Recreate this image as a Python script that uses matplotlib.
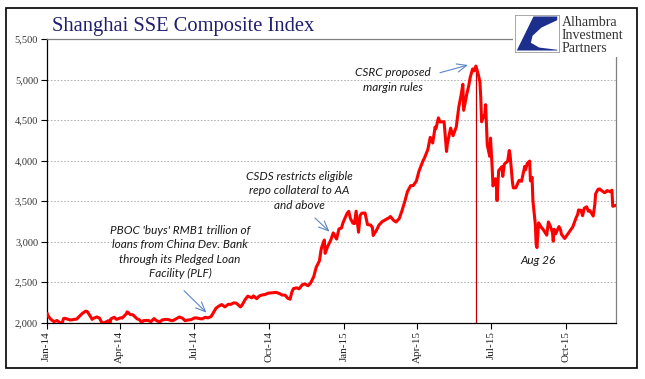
import matplotlib
matplotlib.use("Agg")
import matplotlib.pyplot as plt
import matplotlib.dates as mdates
from matplotlib.patches import Rectangle, Polygon, FancyArrowPatch
import pandas as pd

# Shanghai SSE Composite closes
dates_2014 = [
    "2014-01-02", "2014-01-03", "2014-01-06", "2014-01-10", "2014-01-14", "2014-01-17",
    "2014-01-20", "2014-01-22", "2014-01-24", "2014-01-30", "2014-02-07", "2014-02-11",
    "2014-02-14", "2014-02-18", "2014-02-20", "2014-02-24", "2014-02-26", "2014-02-28",
    "2014-03-04", "2014-03-07", "2014-03-10", "2014-03-12", "2014-03-14", "2014-03-18",
    "2014-03-20", "2014-03-21", "2014-03-25", "2014-03-28", "2014-04-02", "2014-04-04",
    "2014-04-09", "2014-04-10", "2014-04-14", "2014-04-17", "2014-04-22", "2014-04-25",
    "2014-04-28", "2014-04-30", "2014-05-06", "2014-05-09", "2014-05-13", "2014-05-16",
    "2014-05-20", "2014-05-23", "2014-05-27", "2014-05-30", "2014-06-04", "2014-06-06",
    "2014-06-10", "2014-06-13", "2014-06-17", "2014-06-20", "2014-06-24", "2014-06-27",
    "2014-07-02", "2014-07-04", "2014-07-08", "2014-07-11", "2014-07-15", "2014-07-18",
    "2014-07-22", "2014-07-24", "2014-07-25", "2014-07-28", "2014-07-31", "2014-08-04",
    "2014-08-08", "2014-08-12", "2014-08-15", "2014-08-19", "2014-08-22", "2014-08-27",
    "2014-08-29", "2014-09-02", "2014-09-05", "2014-09-10", "2014-09-12", "2014-09-16",
    "2014-09-19", "2014-09-23", "2014-09-26", "2014-09-30", "2014-10-10", "2014-10-14",
    "2014-10-17", "2014-10-21", "2014-10-24", "2014-10-27", "2014-10-29", "2014-10-31",
    "2014-11-04", "2014-11-07", "2014-11-11", "2014-11-14", "2014-11-18", "2014-11-21",
    "2014-11-25", "2014-11-28", "2014-12-02", "2014-12-04", "2014-12-05", "2014-12-08",
    "2014-12-09", "2014-12-12", "2014-12-16", "2014-12-19", "2014-12-23", "2014-12-26",
    "2014-12-29", "2014-12-31",
]
values_2014 = [
    2109, 2083, 2045, 2013, 2027, 2004,
    1991, 2052, 2054, 2033, 2045, 2086,
    2115, 2142, 2138, 2076, 2041, 2056,
    2071, 2057, 1999, 1997, 2004, 2025,
    1994, 2047, 2067, 2041, 2060, 2058,
    2110, 2134, 2100, 2098, 2049, 2036,
    2003, 2026, 2028, 2011, 2051, 2026,
    2008, 2034, 2041, 2039, 2025, 2030,
    2052, 2070, 2055, 2025, 2034, 2036,
    2060, 2059, 2050, 2047, 2067, 2059,
    2076, 2108, 2127, 2178, 2201, 2224,
    2195, 2227, 2226, 2245, 2241, 2195,
    2217, 2288, 2327, 2307, 2331, 2296,
    2329, 2343, 2347, 2364, 2374, 2359,
    2342, 2339, 2302, 2290, 2373, 2420,
    2430, 2418, 2469, 2478, 2456, 2487,
    2568, 2683, 2763, 2899, 2938, 3020,
    2856, 2938, 3022, 3108, 3032, 3157,
    3168, 3235,
]

dates_2015 = [
    "2015-01-05", "2015-01-07", "2015-01-09", "2015-01-12", "2015-01-14", "2015-01-16",
    "2015-01-19", "2015-01-21", "2015-01-23", "2015-01-27", "2015-01-30", "2015-02-03",
    "2015-02-05", "2015-02-06", "2015-02-10", "2015-02-13", "2015-02-17", "2015-02-26",
    "2015-02-27", "2015-03-03", "2015-03-06", "2015-03-10", "2015-03-13", "2015-03-17",
    "2015-03-20", "2015-03-24", "2015-03-27", "2015-03-31", "2015-04-03", "2015-04-08",
    "2015-04-10", "2015-04-14", "2015-04-17", "2015-04-20", "2015-04-23", "2015-04-24",
    "2015-04-27", "2015-04-29", "2015-05-04", "2015-05-06", "2015-05-07", "2015-05-08",
    "2015-05-12", "2015-05-15", "2015-05-19", "2015-05-22", "2015-05-25", "2015-05-27",
    "2015-05-28", "2015-06-01", "2015-06-03", "2015-06-05", "2015-06-08", "2015-06-10",
    "2015-06-12", "2015-06-15", "2015-06-17", "2015-06-18", "2015-06-19", "2015-06-23",
    "2015-06-24", "2015-06-26", "2015-06-29", "2015-06-30", "2015-07-02", "2015-07-03",
    "2015-07-06", "2015-07-07", "2015-07-08", "2015-07-09", "2015-07-10", "2015-07-14",
    "2015-07-15", "2015-07-17", "2015-07-21", "2015-07-23", "2015-07-24", "2015-07-27",
    "2015-07-28", "2015-07-31", "2015-08-04", "2015-08-07", "2015-08-11", "2015-08-12",
    "2015-08-14", "2015-08-17", "2015-08-18", "2015-08-20", "2015-08-21", "2015-08-24",
    "2015-08-25", "2015-08-26", "2015-08-27", "2015-08-28", "2015-09-01", "2015-09-02",
    "2015-09-07", "2015-09-09", "2015-09-11", "2015-09-14", "2015-09-15", "2015-09-16",
    "2015-09-18", "2015-09-22", "2015-09-24", "2015-09-25", "2015-09-29", "2015-09-30",
    "2015-10-09", "2015-10-13", "2015-10-15", "2015-10-16", "2015-10-19", "2015-10-21",
    "2015-10-23", "2015-10-26", "2015-10-28", "2015-10-30", "2015-11-03", "2015-11-05",
    "2015-11-06", "2015-11-09", "2015-11-11", "2015-11-13", "2015-11-17", "2015-11-19",
    "2015-11-20", "2015-11-24", "2015-11-26", "2015-11-27", "2015-11-30",
]
values_2015 = [
    3351, 3374, 3286, 3229, 3223, 3376,
    3116, 3323, 3351, 3353, 3210, 3204,
    3174, 3076, 3141, 3203, 3247, 3298,
    3310, 3263, 3242, 3286, 3372, 3503,
    3617, 3691, 3691, 3748, 3864, 3995,
    4035, 4135, 4287, 4217, 4414, 4394,
    4527, 4476, 4480, 4229, 4112, 4205,
    4401, 4308, 4417, 4658, 4814, 4941,
    4620, 4828, 4910, 5023, 5131, 5106,
    5166, 5062, 4967, 4785, 4478, 4577,
    4690, 4192, 4053, 4277, 3912, 3687,
    3776, 3727, 3507, 3710, 3877, 3925,
    3805, 3958, 3992, 4124, 4070, 3725,
    3663, 3664, 3756, 3744, 3928, 3887,
    3965, 3994, 3749, 3794, 3508, 3210,
    2965, 2927, 3084, 3232, 3166, 3160,
    3080, 3243, 3200, 3114, 3005, 3152,
    3097, 3186, 3143, 3092, 3039, 3053,
    3183, 3293, 3338, 3391, 3386, 3320,
    3412, 3430, 3375, 3383, 3316, 3459,
    3590, 3646, 3650, 3632, 3604, 3617,
    3630, 3616, 3635, 3436, 3445,
]

y_ticks = [2000, 2500, 3000, 3500, 4000, 4500, 5000, 5500]
peak_date = "2015-06-12"
peak_value = 5166

dates = pd.to_datetime(dates_2014 + dates_2015)
values = values_2014 + values_2015

fig = plt.figure(figsize=(6.45, 3.79), dpi=100)
W, H = 645.0, 379.0

def fig_xy(px, py):
    # pixel position (from top-left) -> figure fraction
    return (px / W, 1 - py / H)

# axes placed to match the plot box in pixels
ax = fig.add_axes([46.5 / W, 1 - 322.7 / H, (616 - 46.5) / W, (322.7 - 39) / H])

ax.plot(dates, values, color="#ff0000", lw=2.2, solid_joinstyle="round", zorder=3)
ax.vlines(pd.Timestamp(peak_date), 2000, peak_value, color="#c00000", lw=0.9, zorder=2)

ax.set_ylim(2000, 5500)
ax.set_xlim(pd.Timestamp("2014-01-01"), pd.Timestamp("2015-12-01"))
ax.set_yticks(y_ticks)
ax.set_yticklabels([f"{v:,}" for v in y_ticks])
ax.xaxis.set_major_locator(mdates.MonthLocator(bymonth=[1, 4, 7, 10]))
ax.xaxis.set_major_formatter(mdates.DateFormatter("%b-%y"))

for lab in ax.get_yticklabels():
    lab.set_family("Liberation Serif")
    lab.set_fontsize(7.5)
    lab.set_color("#333333")
for lab in ax.get_xticklabels():
    lab.set_family("Liberation Serif")
    lab.set_fontsize(8)
    lab.set_rotation(90)
    lab.set_color("#222222")

ax.tick_params(axis="both", direction="out", length=4, width=0.8, pad=2)
ax.grid(axis="y", color="#a6a6a6", lw=0.6, ls=(0, (2, 2)))
ax.set_axisbelow(True)
ax.spines["left"].set_color("black")
ax.spines["bottom"].set_color("black")
ax.spines["top"].set_color("#808080")
ax.spines["right"].set_color("#808080")
for s in ax.spines.values():
    s.set_linewidth(0.9)

# annotations
note_kw = dict(family="Lato", style="italic", fontsize=8.5, color="#1a1a1a",
               ha="center", va="center", linespacing=1.35)

fig.text(*fig_xy(393, 80), "CSRC proposed\nmargin rules", **note_kw)
fig.text(*fig_xy(299, 191), "CSDS restricts eligible\nrepo collateral to AA\nand above", **note_kw)
fig.text(*fig_xy(180, 252), "PBOC 'buys' RMB1 trillion of\nloans from China Dev. Bank\nthrough its Pledged Loan\nFacility (PLF)", **note_kw)
fig.text(*fig_xy(538, 260), "Aug 26", **note_kw)

for start, end in [((440, 72.7), (468, 65)),
                   ((315, 218), (329.5, 231.7)),
                   ((184, 290.7), (206.5, 312.7))]:
    fig.add_artist(FancyArrowPatch(fig_xy(*start), fig_xy(*end), transform=fig.transFigure,
                                   arrowstyle="->,head_length=0.7,head_width=0.3",
                                   mutation_scale=10, color="#5b86c4", lw=0.8,
                                   shrinkA=0, shrinkB=0, zorder=5))

# title
fig.text(52 / W, 1 - 31 / H, "Shanghai SSE Composite Index", family="Liberation Serif",
         fontsize=14.8, color="#1f1f6e", ha="left", va="baseline")

# white block behind the logo
fig.add_artist(Rectangle((513 / W, 1 - 57 / H), (637 - 513) / W, (57 - 8) / H,
                         transform=fig.transFigure, facecolor="white", edgecolor="none", zorder=4))

# logo mark
lax = fig.add_axes([515 / W, 1 - 52 / H, 44 / W, 37 / H], zorder=6)
lax.set_xlim(0, 1)
lax.set_ylim(0, 1)
lax.set_xticks([])
lax.set_yticks([])
for s in lax.spines.values():
    s.set_color("#9a9a9a")
    s.set_linewidth(0.6)
lax.add_patch(Polygon([(0.42, 0.96), (0.96, 0.96), (0.96, 0.86), (0.6, 0.66), (0.4, 0.44),
                       (0.36, 0.25), (0.55, 0.12), (0.96, 0.06), (0.96, 0.04), (0.04, 0.04)],
                      closed=True, facecolor="#1c2f8c", edgecolor="none"))

fig.text(562 / W, 1 - 16.5 / H, "Alhambra\nInvestment\nPartners", family="Liberation Serif",
         fontsize=10, color="#333333", ha="left", va="top", linespacing=0.95, zorder=7)

# outer frame
fig.add_artist(Rectangle((6 / W, 1 - 368 / H), (637 - 6) / W, (368 - 7.5) / H,
                         transform=fig.transFigure, fill=False, edgecolor="black", lw=1.2, zorder=8))

fig.savefig("out.png", dpi=100)
